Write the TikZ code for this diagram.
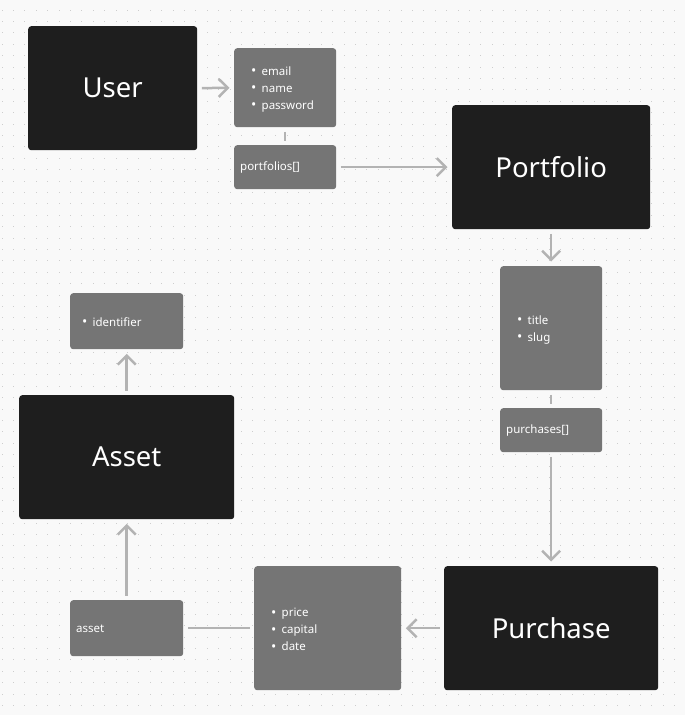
\documentclass[tikz,border=0pt]{standalone}
\usepackage{fontspec}
\setmainfont{Noto Sans}
\usetikzlibrary{arrows.meta}
\definecolor{bgc}{HTML}{F9F9F9}
\definecolor{dotc}{HTML}{CDCDCD}
\definecolor{darkc}{HTML}{1E1E1E}
\definecolor{grayc}{HTML}{757575}
\definecolor{linec}{HTML}{B3B3B3}
\newcommand\itm[1]{\makebox[10.5pt][l]{\fontsize{14}{17}\selectfont\raisebox{-0.5pt}{•}}#1}
\tikzset{
  entity/.style={fill=darkc, rounded corners=3pt, inner sep=0pt, anchor=north west, text=white, font=\fontsize{27.5}{30}\selectfont},
  prop/.style={fill=grayc, rounded corners=3pt, inner sep=0pt, anchor=north west},
  listtxt/.style={inner sep=0pt, anchor=west, align=left, text=white, font=\fontsize{11.5}{17}\selectfont},
  conn/.style={draw=linec, line width=2.5pt, shorten >=4.5pt, shorten <=4.5pt},
  arr/.style={conn, -{Straight Barb[length=9pt,width=18pt]}}
}
\begin{document}
\begin{tikzpicture}[x=1pt,y=-1pt]
\fill[bgc] (0,0) rectangle (685,715);
\useasboundingbox (0,0) rectangle (685,715);
\foreach \i in {0,...,59}{
  \foreach \j in {0,...,62}{
    \fill[dotc] ({2+11.4*\i-0.5},{10+11.4*\j-0.5}) rectangle ++(1.1,1.1);
  }
}
% entities
\node[entity, minimum width=169pt, minimum height=124pt] (user) at (28,26) {User};
\node[entity, minimum width=198pt, minimum height=124pt] (portfolio) at (452,105) {Portfolio};
\node[entity, minimum width=214pt, minimum height=124pt] (purchase) at (444,566) {Purchase};
\node[entity, minimum width=215pt, minimum height=124pt] (asset) at (19,395) {Asset};
% property boxes
\node[prop, minimum width=102pt, minimum height=79pt] (userp) at (234,48) {};
\node[listtxt] (userpl) at ([xshift=17pt,yshift=-1.5pt]userp.west) {\itm{email}\\\itm{name}\\\itm{password}};
\node[prop, minimum width=102pt, minimum height=44pt] (portf) at (234,145) {};
\node[listtxt] (portfl) at ([xshift=6pt,yshift=-0.5pt]portf.west) {portfolios[]};
\node[prop, minimum width=102pt, minimum height=124pt] (portp) at (500,266) {};
\node[listtxt] (portpl) at ([xshift=17pt,yshift=-1.5pt]portp.west) {\itm{title}\\\itm{slug}};
\node[prop, minimum width=102pt, minimum height=44pt] (purch) at (500,408) {};
\node[listtxt] (purchl) at ([xshift=6pt,yshift=-0.5pt]purch.west) {purchases[]};
\node[prop, minimum width=147pt, minimum height=124pt] (purp) at (254,566) {};
\node[listtxt] (purpl) at ([xshift=17pt,yshift=-1.5pt]purp.west) {\itm{price}\\\itm{capital}\\\itm{date}};
\node[prop, minimum width=113pt, minimum height=56pt] (assetf) at (70,600) {};
\node[listtxt] (assetfl) at ([xshift=6pt,yshift=-0.5pt]assetf.west) {asset};
\node[prop, minimum width=113pt, minimum height=56pt] (assetp) at (70,293) {};
\node[listtxt] (assetpl) at ([xshift=12pt,yshift=-1pt]assetp.west) {\itm{identifier}};
% connectors
\draw[arr] (user.east) -- (userp.west);
\draw[conn] (userp.south) -- (portf.north);
\draw[arr] (portf.east) -- (portfolio.west);
\draw[arr] (portfolio.south) -- (portp.north);
\draw[conn] (portp.south) -- (purch.north);
\draw[arr] (purch.south) -- (purchase.north);
\draw[arr] (purchase.west) -- (purp.east);
\draw[conn] (purp.west) -- (assetf.east);
\draw[arr] (assetf.north) -- (asset.south);
\draw[arr] (asset.north) -- (assetp.south);
\end{tikzpicture}
\end{document}
